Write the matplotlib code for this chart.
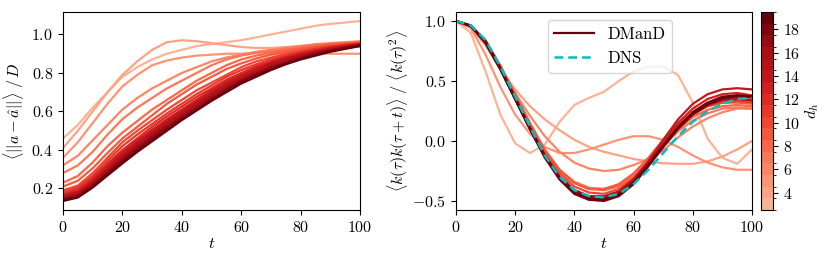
import numpy as np
import matplotlib
matplotlib.use("Agg")
import matplotlib.pyplot as plt
from matplotlib.colors import ListedColormap, BoundaryNorm
from matplotlib.cm import ScalarMappable

plt.rcParams.update({
    "font.family": "serif",
    "font.serif": ["cmr10", "DejaVu Serif"],
    "mathtext.fontset": "cm",
    "axes.formatter.use_mathtext": True,
    "axes.unicode_minus": False,
    "font.size": 11.5,
    "xtick.labelsize": 11.5,
    "ytick.labelsize": 11.5,
})

# time samples
t = [0, 5, 10, 15, 20, 25, 30, 35, 40, 45, 50, 55, 60, 65, 70, 75, 80, 85, 90, 95, 100]

# latent dimension of each model
d_h = [3, 4, 5, 6, 7, 8, 9, 10, 11, 12, 13, 14, 15, 16, 17, 18, 19]

# left: normalised tracking error, one row per d_h
err = [
    [0.46, 0.53, 0.62, 0.70, 0.78, 0.83, 0.87, 0.90, 0.92, 0.94, 0.95, 0.96, 0.97, 0.985, 1.00, 1.015, 1.03, 1.045, 1.055, 1.062, 1.07],
    [0.41, 0.50, 0.60, 0.70, 0.79, 0.86, 0.92, 0.96, 0.97, 0.965, 0.955, 0.945, 0.935, 0.93, 0.93, 0.935, 0.94, 0.945, 0.95, 0.955, 0.96],
    [0.36, 0.44, 0.54, 0.64, 0.73, 0.79, 0.84, 0.865, 0.88, 0.89, 0.895, 0.90, 0.90, 0.905, 0.91, 0.91, 0.91, 0.905, 0.90, 0.90, 0.90],
    [0.32, 0.37, 0.45, 0.53, 0.61, 0.67, 0.72, 0.76, 0.80, 0.83, 0.86, 0.88, 0.895, 0.91, 0.92, 0.93, 0.94, 0.95, 0.955, 0.96, 0.965],
    [0.28, 0.32, 0.39, 0.48, 0.56, 0.62, 0.67, 0.72, 0.76, 0.80, 0.84, 0.87, 0.89, 0.905, 0.915, 0.925, 0.935, 0.945, 0.95, 0.955, 0.96],
    [0.23, 0.265, 0.335, 0.42, 0.49, 0.55, 0.61, 0.66, 0.71, 0.76, 0.80, 0.84, 0.87, 0.89, 0.905, 0.92, 0.93, 0.94, 0.95, 0.955, 0.96],
    [0.21, 0.24, 0.305, 0.385, 0.46, 0.52, 0.58, 0.64, 0.69, 0.74, 0.78, 0.82, 0.85, 0.875, 0.895, 0.91, 0.925, 0.935, 0.945, 0.95, 0.955],
    [0.19, 0.215, 0.28, 0.36, 0.44, 0.50, 0.555, 0.61, 0.66, 0.71, 0.75, 0.79, 0.83, 0.86, 0.88, 0.90, 0.915, 0.93, 0.94, 0.95, 0.955],
    [0.18, 0.205, 0.265, 0.345, 0.42, 0.48, 0.535, 0.59, 0.64, 0.69, 0.735, 0.78, 0.815, 0.845, 0.87, 0.89, 0.91, 0.925, 0.935, 0.945, 0.955],
    [0.17, 0.195, 0.255, 0.33, 0.40, 0.46, 0.52, 0.575, 0.625, 0.675, 0.72, 0.765, 0.80, 0.835, 0.86, 0.885, 0.905, 0.92, 0.935, 0.945, 0.95],
    [0.165, 0.185, 0.245, 0.32, 0.39, 0.45, 0.505, 0.56, 0.61, 0.66, 0.71, 0.755, 0.79, 0.825, 0.855, 0.88, 0.90, 0.915, 0.93, 0.94, 0.95],
    [0.16, 0.18, 0.235, 0.31, 0.38, 0.44, 0.495, 0.55, 0.60, 0.65, 0.70, 0.745, 0.785, 0.82, 0.85, 0.875, 0.895, 0.91, 0.925, 0.94, 0.95],
    [0.15, 0.172, 0.23, 0.30, 0.37, 0.43, 0.485, 0.54, 0.59, 0.64, 0.69, 0.735, 0.775, 0.81, 0.845, 0.87, 0.89, 0.91, 0.925, 0.935, 0.945],
    [0.15, 0.168, 0.225, 0.29, 0.36, 0.42, 0.475, 0.53, 0.58, 0.63, 0.68, 0.725, 0.765, 0.80, 0.835, 0.86, 0.885, 0.905, 0.92, 0.935, 0.945],
    [0.145, 0.163, 0.215, 0.283, 0.35, 0.41, 0.465, 0.52, 0.57, 0.62, 0.67, 0.715, 0.76, 0.795, 0.83, 0.855, 0.88, 0.90, 0.915, 0.93, 0.945],
    [0.14, 0.158, 0.21, 0.275, 0.34, 0.40, 0.455, 0.51, 0.56, 0.61, 0.66, 0.71, 0.755, 0.79, 0.82, 0.85, 0.875, 0.895, 0.915, 0.93, 0.94],
    [0.135, 0.153, 0.205, 0.268, 0.33, 0.39, 0.445, 0.50, 0.555, 0.605, 0.655, 0.70, 0.745, 0.78, 0.815, 0.845, 0.87, 0.89, 0.91, 0.925, 0.94],
]

# right: autocorrelation of k, one row per d_h
acf = [
    [1.0, 0.90, 0.58, 0.22, -0.02, -0.10, -0.03, 0.16, 0.30, 0.36, 0.41, 0.50, 0.58, 0.62, 0.62, 0.55, 0.32, 0.02, -0.14, -0.19, -0.07],
    [1.0, 0.95, 0.80, 0.60, 0.43, 0.29, 0.18, 0.09, 0.01, -0.05, -0.09, -0.12, -0.15, -0.17, -0.185, -0.19, -0.19, -0.17, -0.13, -0.07, 0.0],
    [1.0, 0.94, 0.72, 0.45, 0.22, 0.06, -0.05, -0.10, -0.10, -0.07, -0.03, 0.01, 0.04, 0.04, 0.01, -0.05, -0.12, -0.18, -0.22, -0.24, -0.24],
    [1.0, 0.95, 0.80, 0.60, 0.40, 0.21, 0.04, -0.09, -0.18, -0.23, -0.25, -0.24, -0.20, -0.15, -0.08, 0.03, 0.12, 0.19, 0.24, 0.27, 0.27],
    [1.0, 0.96, 0.83, 0.62, 0.38, 0.14, -0.08, -0.24, -0.34, -0.39, -0.40, -0.37, -0.29, -0.17, -0.04, 0.08, 0.17, 0.23, 0.27, 0.28, 0.27],
    [1.0, 0.96, 0.83, 0.62, 0.38, 0.14, -0.08, -0.25, -0.35, -0.40, -0.41, -0.38, -0.30, -0.17, -0.03, 0.10, 0.20, 0.26, 0.29, 0.30, 0.29],
    [1.0, 0.96, 0.84, 0.63, 0.39, 0.15, -0.07, -0.24, -0.35, -0.40, -0.40, -0.36, -0.27, -0.14, 0.01, 0.14, 0.23, 0.29, 0.32, 0.32, 0.31],
    [1.0, 0.96, 0.83, 0.61, 0.37, 0.12, -0.10, -0.27, -0.38, -0.43, -0.44, -0.40, -0.31, -0.17, -0.02, 0.12, 0.22, 0.29, 0.32, 0.33, 0.32],
    [1.0, 0.96, 0.83, 0.61, 0.36, 0.11, -0.12, -0.30, -0.41, -0.46, -0.47, -0.43, -0.33, -0.18, -0.02, 0.13, 0.24, 0.31, 0.34, 0.34, 0.33],
    [1.0, 0.96, 0.82, 0.60, 0.35, 0.10, -0.13, -0.31, -0.42, -0.47, -0.48, -0.44, -0.34, -0.19, -0.03, 0.12, 0.24, 0.32, 0.36, 0.37, 0.36],
    [1.0, 0.96, 0.83, 0.61, 0.36, 0.11, -0.12, -0.30, -0.42, -0.47, -0.48, -0.43, -0.32, -0.17, 0.0, 0.15, 0.27, 0.35, 0.39, 0.40, 0.38],
    [1.0, 0.96, 0.82, 0.60, 0.35, 0.10, -0.14, -0.32, -0.44, -0.49, -0.49, -0.44, -0.33, -0.17, 0.01, 0.18, 0.31, 0.39, 0.43, 0.44, 0.43],
    [1.0, 0.96, 0.83, 0.61, 0.36, 0.11, -0.12, -0.30, -0.41, -0.46, -0.46, -0.42, -0.32, -0.18, -0.03, 0.12, 0.23, 0.30, 0.34, 0.35, 0.34],
    [1.0, 0.96, 0.82, 0.60, 0.35, 0.10, -0.13, -0.31, -0.43, -0.48, -0.49, -0.45, -0.35, -0.20, -0.04, 0.11, 0.23, 0.31, 0.35, 0.37, 0.37],
    [1.0, 0.96, 0.83, 0.61, 0.36, 0.11, -0.12, -0.30, -0.41, -0.47, -0.48, -0.44, -0.34, -0.20, -0.05, 0.10, 0.22, 0.30, 0.35, 0.37, 0.37],
    [1.0, 0.96, 0.82, 0.60, 0.35, 0.10, -0.13, -0.32, -0.44, -0.49, -0.50, -0.46, -0.36, -0.21, -0.05, 0.11, 0.24, 0.32, 0.37, 0.38, 0.37],
    [1.0, 0.96, 0.82, 0.60, 0.35, 0.10, -0.13, -0.31, -0.43, -0.48, -0.49, -0.45, -0.35, -0.20, -0.04, 0.11, 0.23, 0.31, 0.36, 0.38, 0.37],
]

# DNS reference autocorrelation
dns = [1.0, 0.965, 0.84, 0.62, 0.37, 0.12, -0.12, -0.30, -0.41, -0.46, -0.47, -0.44, -0.36, -0.24, -0.10, 0.04, 0.16, 0.25, 0.31, 0.35, 0.36]

cb_ticks = [4, 6, 8, 10, 12, 14, 16, 18]

# discrete colormap, one colour per d_h
cmap = ListedColormap(plt.cm.Reds(np.linspace(0.28, 1.0, len(d_h))))
norm = BoundaryNorm(np.arange(d_h[0] - 0.5, d_h[-1] + 1.0, 1.0), cmap.N)

fig = plt.figure(figsize=(8.31, 2.67), dpi=100)
ax1 = fig.add_axes([0.0758, 0.2135, 0.3574, 0.7415])
ax2 = fig.add_axes([0.5487, 0.2135, 0.3563, 0.7415])
cax = fig.add_axes([0.9158, 0.2135, 0.0144, 0.7415])

for d, row in zip(d_h, err):
    ax1.plot(t, row, color=cmap(norm(d)), lw=1.6, solid_joinstyle="round")
ax1.set_xlim(0, 100)
ax1.set_xlabel(r"$t$", labelpad=2)
ax1.set_ylabel(r"$\langle ||a-\hat{a}|| \rangle\ /\, D$")
ax1.set_yticks([0.2, 0.4, 0.6, 0.8, 1.0])

for d, row in zip(d_h, acf):
    ax2.plot(t, row, color=cmap(norm(d)), lw=1.6, solid_joinstyle="round")
ax2.plot(t, dns, color="c", lw=1.8, ls="--", dashes=(3.5, 2))
ax2.set_xlim(0, 100)
ax2.set_xlabel(r"$t$", labelpad=2)
ax2.set_ylabel(r"$\langle k(\tau)k(\tau+t) \rangle\ /\ \langle k(\tau)^2 \rangle$", labelpad=2)
ax2.set_yticks([-0.5, 0.0, 0.5, 1.0])

h1, = ax2.plot([], [], color=cmap(norm(d_h[-1])), lw=1.6, label="DManD")
h2, = ax2.plot([], [], color="c", lw=1.8, ls="--", dashes=(3.5, 2), label="DNS")
ax2.legend(handles=[h1, h2], loc="upper center", bbox_to_anchor=(0.52, 1.0),
           handlelength=2.4, fontsize=12)

for ax in (ax1, ax2):
    ax.set_xticks([0, 20, 40, 60, 80, 100])

sm = ScalarMappable(norm=norm, cmap=cmap)
cb = fig.colorbar(sm, cax=cax, ticks=cb_ticks)
cb.set_label(r"$d_h$", labelpad=2)

fig.savefig("out.png", dpi=100)
